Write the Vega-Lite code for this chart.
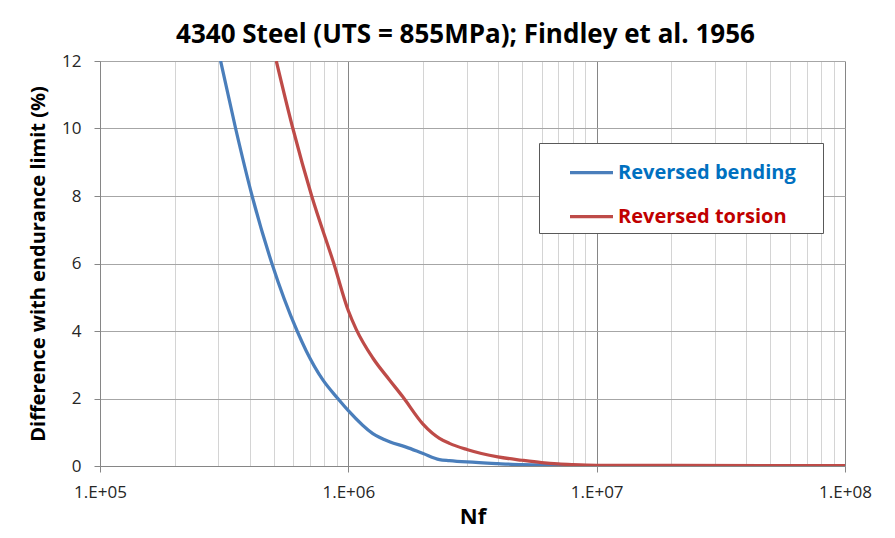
{
  "$schema": "https://vega.github.io/schema/vega-lite/v6.json",
  "width": 745,
  "height": 405,
  "autosize": {"type": "none"},
  "padding": {"left": 100, "top": 61, "right": 50, "bottom": 72},
  "background": "white",
  "title": {
    "text": "4340 Steel (UTS = 855MPa); Findley et al. 1956",
    "font": "Open Sans",
    "fontSize": 26,
    "fontWeight": "bold",
    "color": "#000000",
    "anchor": "middle",
    "frame": "group",
    "dx": -7,
    "offset": 4
  },
  "data": {
    "values": [
      {"Nf": 306000, "diff": 12, "series": "Reversed bending"},
      {"Nf": 351700, "diff": 10, "series": "Reversed bending"},
      {"Nf": 409800, "diff": 8, "series": "Reversed bending"},
      {"Nf": 492300, "diff": 6, "series": "Reversed bending"},
      {"Nf": 622000, "diff": 4, "series": "Reversed bending"},
      {"Nf": 677000, "diff": 3.41, "series": "Reversed bending"},
      {"Nf": 789800, "diff": 2.55, "series": "Reversed bending"},
      {"Nf": 907000, "diff": 2.0, "series": "Reversed bending"},
      {"Nf": 1000000, "diff": 1.64, "series": "Reversed bending"},
      {"Nf": 1255000, "diff": 0.96, "series": "Reversed bending"},
      {"Nf": 1465000, "diff": 0.72, "series": "Reversed bending"},
      {"Nf": 1710000, "diff": 0.56, "series": "Reversed bending"},
      {"Nf": 2000000, "diff": 0.37, "series": "Reversed bending"},
      {"Nf": 2328000, "diff": 0.19, "series": "Reversed bending"},
      {"Nf": 2554000, "diff": 0.16, "series": "Reversed bending"},
      {"Nf": 3000000, "diff": 0.12, "series": "Reversed bending"},
      {"Nf": 4000000, "diff": 0.07, "series": "Reversed bending"},
      {"Nf": 5000000, "diff": 0.04, "series": "Reversed bending"},
      {"Nf": 6000000, "diff": 0.03, "series": "Reversed bending"},
      {"Nf": 7000000, "diff": 0.015, "series": "Reversed bending"},
      {"Nf": 10000000, "diff": 0, "series": "Reversed bending"},
      {"Nf": 100000000, "diff": 0, "series": "Reversed bending"},
      {"Nf": 512800, "diff": 12, "series": "Reversed torsion"},
      {"Nf": 598000, "diff": 10, "series": "Reversed torsion"},
      {"Nf": 712000, "diff": 8, "series": "Reversed torsion"},
      {"Nf": 874000, "diff": 6, "series": "Reversed torsion"},
      {"Nf": 1000000, "diff": 4.6, "series": "Reversed torsion"},
      {"Nf": 1076000, "diff": 4.05, "series": "Reversed torsion"},
      {"Nf": 1255000, "diff": 3.2, "series": "Reversed torsion"},
      {"Nf": 1465000, "diff": 2.55, "series": "Reversed torsion"},
      {"Nf": 1657000, "diff": 2.05, "series": "Reversed torsion"},
      {"Nf": 1994000, "diff": 1.25, "series": "Reversed torsion"},
      {"Nf": 2182000, "diff": 0.97, "series": "Reversed torsion"},
      {"Nf": 2328000, "diff": 0.82, "series": "Reversed torsion"},
      {"Nf": 2554000, "diff": 0.67, "series": "Reversed torsion"},
      {"Nf": 3000000, "diff": 0.49, "series": "Reversed torsion"},
      {"Nf": 4000000, "diff": 0.27, "series": "Reversed torsion"},
      {"Nf": 5000000, "diff": 0.17, "series": "Reversed torsion"},
      {"Nf": 6000000, "diff": 0.1, "series": "Reversed torsion"},
      {"Nf": 7000000, "diff": 0.06, "series": "Reversed torsion"},
      {"Nf": 8000000, "diff": 0.04, "series": "Reversed torsion"},
      {"Nf": 10000000, "diff": 0.02, "series": "Reversed torsion"},
      {"Nf": 20000000, "diff": 0.015, "series": "Reversed torsion"},
      {"Nf": 100000000, "diff": 0.01, "series": "Reversed torsion"}
    ]
  },
  "mark": {"type": "line", "strokeWidth": 3.25, "interpolate": "monotone", "clip": true},
  "encoding": {
    "x": {
      "field": "Nf",
      "type": "quantitative",
      "scale": {"type": "log", "domain": [100000, 100000000], "nice": false},
      "axis": {
        "title": "Nf",
        "titleFont": "Open Sans",
        "titleFontSize": 22,
        "titleFontWeight": "bold",
        "titleColor": "#000000",
        "titlePadding": 6,
        "values": [100000, 200000, 300000, 400000, 500000, 600000, 700000, 800000, 900000,
                   1000000, 2000000, 3000000, 4000000, 5000000, 6000000, 7000000, 8000000, 9000000,
                   10000000, 20000000, 30000000, 40000000, 50000000, 60000000, 70000000, 80000000, 90000000,
                   100000000],
        "labelExpr": "indexof([100000,1000000,10000000,100000000], datum.value) >= 0 ? '1.E+0' + round(log(datum.value)/LN10) : ''",
        "labelFont": "Open Sans",
        "labelFontSize": 17,
        "labelColor": "#262626",
        "labelPadding": 12,
        "labelFlush": false,
        "labelOverlap": false,
        "grid": true,
        "gridColor": {
          "condition": {"test": "indexof([100000,1000000,10000000,100000000], datum.value) >= 0", "value": "#868686"},
          "value": "#d4d4d4"
        },
        "gridWidth": 1,
        "tickColor": {
          "condition": {"test": "indexof([100000,1000000,10000000,100000000], datum.value) >= 0", "value": "#868686"},
          "value": "transparent"
        },
        "tickSize": 6,
        "domainColor": "#868686"
      }
    },
    "y": {
      "field": "diff",
      "type": "quantitative",
      "scale": {"domain": [0, 12], "nice": false},
      "axis": {
        "title": "Difference with endurance limit (%)",
        "titleFont": "Open Sans",
        "titleFontSize": 20,
        "titleFontWeight": "bold",
        "titleColor": "#000000",
        "titlePadding": 13,
        "values": [0, 2, 4, 6, 8, 10, 12],
        "labelFont": "Open Sans",
        "labelFontSize": 17,
        "labelColor": "#262626",
        "labelPadding": 13,
        "grid": true,
        "gridColor": "#a6a6a6",
        "tickColor": "#868686",
        "tickSize": 6,
        "domainColor": "#868686"
      }
    },
    "color": {
      "field": "series",
      "type": "nominal",
      "scale": {"domain": ["Reversed bending", "Reversed torsion"], "range": ["#4A7EBB", "#BE4B48"]},
      "legend": {
        "title": " ",
        "titleOrient": "right",
        "titleFontSize": 1,
        "titlePadding": 21,
        "orient": "none",
        "legendX": 439,
        "legendY": 82,
        "symbolType": "stroke",
        "symbolSize": 1849,
        "symbolStrokeWidth": 3.25,
        "symbolOffset": 23,
        "labelFont": "Open Sans",
        "labelFontSize": 20,
        "labelFontWeight": "bold",
        "labelOffset": 3,
        "labelLimit": 400,
        "rowPadding": 10,
        "padding": 6,
        "fillColor": "white",
        "strokeColor": "#595959",
        "encode": {
          "labels": {"update": {"fill": {"signal": "datum.label === 'Reversed bending' ? '#0070C0' : '#C00000'"}}}
        }
      }
    }
  },
  "config": {
    "view": {"stroke": null}
  }
}
